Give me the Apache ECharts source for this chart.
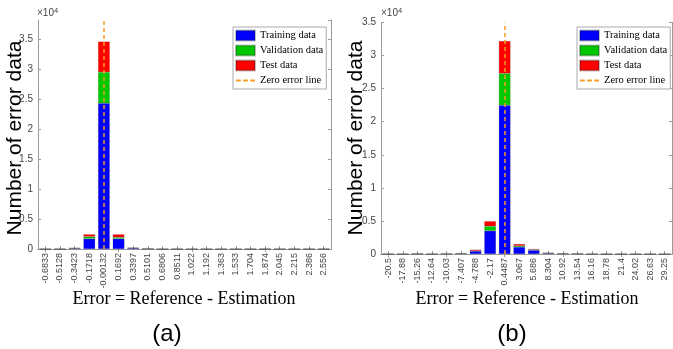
<!DOCTYPE html>
<html>
<head>
<meta charset="utf-8">
<script src="https://cdn.jsdelivr.net/npm/echarts@6/dist/echarts.min.js"></script>
<style>
  html, body { margin: 0; padding: 0; background: #fff; }
  #chart { width: 673px; height: 349px; }
</style>
</head>
<body>
<div id="chart"></div>
<script>
// (a) 误差区间（柱中心）
const catsA = ['-0.6833','-0.5128','-0.3423','-0.1718','-0.00132','0.1692','0.3397','0.5101','0.6806','0.8511',
               '1.022','1.192','1.363','1.533','1.704','1.874','2.045','2.215','2.386','2.556'];
const trainA = [0, 0, 110, 1700, 24300, 1700, 150, 40, 0, 0, 0, 0, 0, 0, 0, 0, 0, 0, 0, 0];
const valA   = [0, 0, 20, 350, 5200, 250, 30, 5, 0, 0, 0, 0, 0, 0, 0, 0, 0, 0, 0, 0];
const testA  = [0, 0, 20, 400, 5100, 500, 20, 5, 0, 0, 0, 0, 0, 0, 0, 0, 0, 0, 0, 0];
const zeroA = '-0.00132';

// (b) 误差区间
const catsB = ['-20.5','-17.88','-15.26','-12.64','-10.03','-7.407','-4.788','-2.17','0.4487','3.067',
               '5.686','8.304','10.92','13.54','16.16','18.78','21.4','24.02','26.63','29.25'];
const trainB = [0, 0, 30, 0, 30, 70, 420, 3500, 22500, 1050, 560, 120, 50, 40, 0, 0, 0, 0, 0, 0];
const valB   = [0, 0, 5, 0, 5, 10, 60, 700, 4800, 180, 80, 15, 5, 5, 0, 0, 0, 0, 0, 0];
const testB  = [0, 0, 5, 0, 5, 10, 180, 750, 4900, 280, 120, 15, 5, 5, 0, 0, 0, 0, 0, 0];
const zeroB = '0.4487';

const yMaxA = 38200;
const yMaxB = 35000;
const yStep = 5000;

const SANS = 'Liberation Sans';
const SERIF = 'Liberation Serif';
const lineGray = '#9a9a9a';
const zeroColor = '#f89c22';

// 图例：柱用方块，零误差线用三段虚线
const legendItems = [
    { name: 'Training data', icon: 'rect' },
    { name: 'Validation data', icon: 'rect' },
    { name: 'Test data', icon: 'rect' },
    { name: 'Zero error line', icon: 'path://M0,0h5v2h-5z M7.5,0h5v2h-5z M15,0h5v2h-5z' }
];

// 分类轴（底部带标签，顶部只画刻度）
function catAxis(grid, cats, pos) {
    return {
        gridIndex: grid, type: 'category', data: cats, position: pos,
        axisLine: { show: true, lineStyle: { color: lineGray } },
        axisTick: { show: true, inside: true, alignWithLabel: true, length: 3, lineStyle: { color: lineGray } },
        axisLabel: pos === 'bottom'
            ? { show: true, rotate: 90, interval: 0, fontSize: 9, color: '#444', margin: 4, fontFamily: SANS }
            : { show: false },
        splitLine: { show: false }
    };
}

// 数值轴（左侧带标签，右侧只画刻度）
function valAxis(grid, max, pos) {
    return {
        gridIndex: grid, type: 'value', min: 0, max: max, interval: yStep, position: pos,
        axisLine: { show: true, lineStyle: { color: lineGray } },
        axisTick: { show: true, inside: true, length: 3, lineStyle: { color: lineGray } },
        splitLine: { show: false },
        axisLabel: pos === 'left'
            ? { show: true, fontSize: 10, color: '#444', margin: 5, fontFamily: SANS, showMaxLabel: max % yStep === 0,
                formatter: v => (v % yStep === 0 ? String(v / 10000) : '') }
            : { show: false }
    };
}

function bar(name, data, color, axisIdx, stack) {
    return {
        name: name, type: 'bar', stack: stack, data: data,
        xAxisIndex: axisIdx, yAxisIndex: axisIdx,
        barCategoryGap: '20%',
        itemStyle: { color: color, borderColor: 'rgba(0,0,0,0.25)', borderWidth: 0.5 },
        emphasis: { disabled: true }
    };
}

function zeroLine(axisIdx, cat) {
    return {
        name: 'Zero error line', type: 'line', data: [], symbol: 'none',
        xAxisIndex: axisIdx, yAxisIndex: axisIdx,
        itemStyle: { color: zeroColor },
        lineStyle: { color: zeroColor, type: [4, 3], width: 2 },
        markLine: {
            silent: true, symbol: 'none', label: { show: false },
            lineStyle: { color: zeroColor, type: [4, 3], width: 1.5 },
            data: [{ xAxis: cat }]
        }
    };
}

function legendAt(left) {
    return {
        left: left, top: 27, orient: 'vertical', data: legendItems, selectedMode: false,
        itemWidth: 19, itemHeight: 10, itemGap: 2, itemTextGap: 2,
        padding: [2, 3, 2, 2], borderColor: '#aaa', borderWidth: 1, backgroundColor: '#fff',
        textStyle: { fontFamily: SERIF, fontSize: 10.5, color: '#000', lineHeight: 13 }
    };
}

function txt(x, y, text, size, font, rot) {
    return {
        type: 'text', x: x, y: y, rotation: rot || 0, silent: true,
        style: { text: text, font: size + 'px "' + font + '"', fill: '#000', align: 'center', verticalAlign: 'middle' }
    };
}

function expLabel(x, y) {
    return {
        type: 'text', x: x, y: y, silent: true,
        style: {
            text: '×10{s|4}', fill: '#444', font: '10px "' + SANS + '"', align: 'left', verticalAlign: 'bottom',
            rich: { s: { fontSize: 7.5, verticalAlign: 'top', padding: [0, 0, 5, 0], fontFamily: SANS, fill: '#444' } }
        }
    };
}

const chart = echarts.init(document.getElementById('chart'));
chart.setOption({
    animation: false,
    backgroundColor: '#fff',
    grid: [
        { left: 38, top: 20, width: 293, bottom: 100 },
        { left: 381, top: 22.5, width: 291, bottom: 95 }
    ],
    xAxis: [catAxis(0, catsA, 'bottom'), catAxis(0, catsA, 'top'), catAxis(1, catsB, 'bottom'), catAxis(1, catsB, 'top')],
    yAxis: [valAxis(0, yMaxA, 'left'), valAxis(0, yMaxA, 'right'), valAxis(1, yMaxB, 'left'), valAxis(1, yMaxB, 'right')],
    legend: [legendAt(233), legendAt(577)],
    series: [
        bar('Training data', trainA, '#0000ff', 0, 'a'),
        bar('Validation data', valA, '#00c800', 0, 'a'),
        bar('Test data', testA, '#ff0000', 0, 'a'),
        zeroLine(0, zeroA),
        bar('Training data', trainB, '#0000ff', 2, 'b'),
        bar('Validation data', valB, '#00c800', 2, 'b'),
        bar('Test data', testB, '#ff0000', 2, 'b'),
        zeroLine(2, zeroB)
    ],
    graphic: [
        expLabel(37, 20),
        expLabel(381, 20),
        txt(15, 138, 'Number of error data', 21, SANS, Math.PI / 2),
        txt(356, 138, 'Number of error data', 21, SANS, Math.PI / 2),
        txt(184, 299, 'Error = Reference - Estimation', 18, SERIF),
        txt(527, 299, 'Error = Reference - Estimation', 18, SERIF),
        txt(167, 334, '(a)', 24, SANS),
        txt(512, 334, '(b)', 24, SANS)
    ]
});
</script>
</body>
</html>
